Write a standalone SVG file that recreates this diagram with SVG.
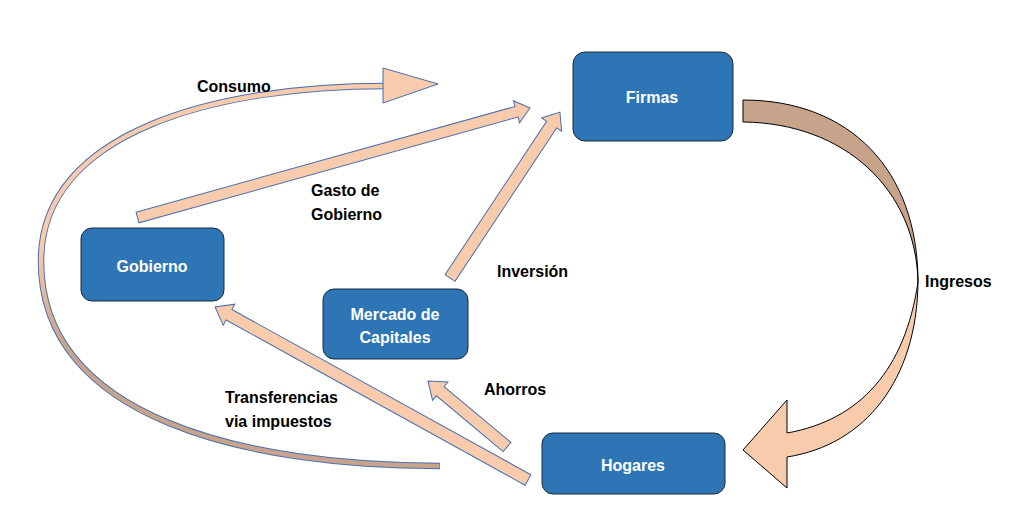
<svg xmlns="http://www.w3.org/2000/svg" width="1020" height="512" viewBox="0 0 1020 512">
<style>
.node{fill:#2E75B6;stroke:#1c2b3a;stroke-width:1}
.nt{font-family:"Liberation Sans",Arial,sans-serif;font-weight:bold;font-size:16px;fill:#ffffff;text-anchor:middle}
.lbl{font-family:"Liberation Sans",Arial,sans-serif;font-weight:bold;font-size:16px;fill:#000000}
.arr{fill:#F8CBAD;stroke:#4A6FAE;stroke-width:1;stroke-linejoin:miter}
</style>
<defs>
<linearGradient id="cg" gradientUnits="userSpaceOnUse" x1="0" y1="250" x2="0" y2="340">
<stop offset="0" stop-color="#F8CBAD"/>
<stop offset="1" stop-color="#C9A48C"/>
</linearGradient>
</defs>
<rect width="1020" height="512" fill="#ffffff"/>
<g id="connectors">
<!-- Consumo curved arrow -->
<g id="consumo">
<path d="M 440 466 C 250 466, 40 420, 41 260 C 42 130, 220 86, 385 86" fill="none" stroke="#4A6FAE" stroke-width="6.5"/>
<path d="M 439.5 466 C 250 466, 40 420, 41 260 C 42 130, 220 86, 386 86" fill="none" stroke="url(#cg)" stroke-width="4.5"/>
<polygon class="arr" points="383,68 438,84 383,103"/>
</g>
<!-- Gasto de Gobierno -->
<g transform="translate(137.5,217.5) rotate(-15.59)">
<polygon class="arr" points="0,-5.5 393.5,-5.5 393.5,-11.5 407.5,0 393.5,11.5 393.5,5.5 0,5.5"/>
</g>
<!-- Inversion -->
<g transform="translate(450,278) rotate(-56.47)">
<polygon class="arr" points="0,-6 184,-6 184,-12 199,0 184,12 184,6 0,6"/>
</g>
<!-- Transferencias -->
<g transform="translate(528,480) rotate(-151.07)">
<polygon class="arr" points="0,-6 341.6,-6 341.6,-12 357.6,0 341.6,12 341.6,6 0,6"/>
</g>
<!-- Ahorros -->
<g transform="translate(507,447) rotate(-140.12)">
<polygon class="arr" points="0,-6 87,-6 87,-12 103,0 87,12 87,6 0,6"/>
</g>
<!-- Ingresos -->
<g id="ingresos">
<path d="M 743 100 C 850 100, 918 170, 918 282 C 916 190, 845 123, 743 122 Z" fill="#C7A38B" stroke="#000000" stroke-width="1"/>
<path d="M 918 282 C 917 380, 865 445, 787 457 L 787 488 L 743 450 L 787 400 L 787 433 C 860 420, 905 370, 918 282 Z" fill="#F8CBAD" stroke="#000000" stroke-width="1" stroke-linejoin="miter"/>
</g>
</g>
<g id="firmas">
<rect class="node" x="573" y="52" width="160" height="89" rx="12"/>
<text class="nt" x="652" y="103">Firmas</text>
</g>
<g id="gobierno">
<rect class="node" x="81" y="228" width="143" height="73" rx="11"/>
<text class="nt" x="152" y="272">Gobierno</text>
</g>
<g id="mercado">
<rect class="node" x="323" y="289" width="145" height="70" rx="11"/>
<text class="nt" x="395" y="320">Mercado de</text>
<text class="nt" x="395" y="343">Capitales</text>
</g>
<g id="hogares">
<rect class="node" x="542" y="433" width="183" height="61" rx="11"/>
<text class="nt" x="633" y="471">Hogares</text>
</g>
<g id="labels">
<text class="lbl" x="197" y="92">Consumo</text>
<text class="lbl" x="311" y="196">Gasto de</text>
<text class="lbl" x="311" y="220">Gobierno</text>
<text class="lbl" x="497" y="277">Inversión</text>
<text class="lbl" x="925" y="287">Ingresos</text>
<text class="lbl" x="484" y="395">Ahorros</text>
<text class="lbl" x="225" y="403">Transferencias</text>
<text class="lbl" x="225" y="427">via impuestos</text>
</g>
</svg>
